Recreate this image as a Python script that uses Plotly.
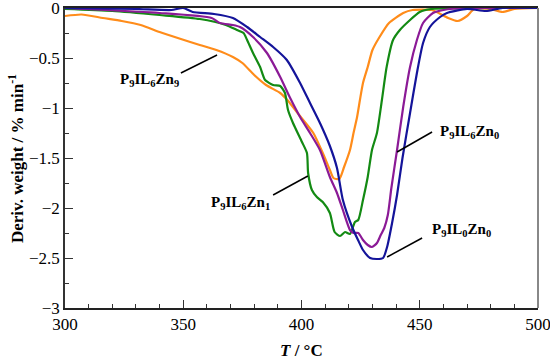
import plotly.graph_objects as go

# ---- data ----
T_zn9 = [300, 307, 316, 324, 332, 340, 349, 357, 364, 371, 375, 380, 385, 391, 394, 399, 405, 409,
         412, 413.5, 416, 418, 420.5, 422, 423.5, 424.7, 426, 428, 430, 433, 437, 443, 447, 455,
         458, 462, 466, 470, 473, 480, 485, 490, 500]
D_zn9 = [-0.08, -0.065, -0.10, -0.13, -0.17, -0.24, -0.31, -0.37, -0.42, -0.49, -0.55, -0.67, -0.77,
         -0.85, -0.92, -1.07, -1.25, -1.45, -1.62, -1.70, -1.71, -1.59, -1.42, -1.25, -1.09, -0.92,
         -0.75, -0.59, -0.42, -0.29, -0.15, -0.05, -0.02, -0.02, -0.05, -0.10, -0.13, -0.08, -0.01,
         -0.01, -0.04, -0.01, 0.0]

T_zn1 = [300, 320, 340, 357, 368, 372.7, 375.5, 377, 379.5, 382.5, 384.6, 388, 391, 393, 394.3,
         396.4, 400.2, 402.3, 402.8, 404.4, 406.5, 409, 412, 414, 416.3, 418.4, 420.5, 422.6, 424,
         426, 428, 429.8, 431.9, 434, 436, 438.7, 441.6, 445.9, 450, 455, 500]
D_zn1 = [-0.01, -0.03, -0.07, -0.11, -0.17, -0.22, -0.25, -0.32, -0.45, -0.59, -0.72, -0.77, -0.78,
         -0.85, -1.02, -1.15, -1.34, -1.45, -1.65, -1.82, -1.89, -1.94, -2.05, -2.24, -2.28, -2.24,
         -2.26, -2.14, -2.12, -1.92, -1.69, -1.42, -1.25, -0.92, -0.59, -0.32, -0.22, -0.12, -0.04,
         -0.01, 0.0]

T_zn0 = [300, 340, 362, 365.5, 371, 374, 379.5, 385.4, 391, 395, 399.4, 403.6, 407.8, 412, 415,
         417.5, 420.5, 422, 424, 426, 428, 429.8, 431.9, 433.5, 435, 436.5, 438, 440.4, 443, 445.9,
         448.8, 451.4, 455.6, 460, 470, 500]
D_zn0 = [0.0, -0.05, -0.10, -0.15, -0.17, -0.19, -0.29, -0.45, -0.69, -0.89, -1.09, -1.25, -1.42,
         -1.69, -1.85, -2.02, -2.22, -2.25, -2.25, -2.32, -2.37, -2.39, -2.35, -2.27, -2.20, -2.07,
         -1.80, -1.42, -0.99, -0.59, -0.32, -0.15, -0.05, -0.02, 0.0, 0.0]

T_il0 = [300, 330, 345, 350, 354, 363, 371, 377, 382.5, 388, 393.8, 399.4, 403.6, 407.8, 412, 415,
         417.5, 421.4, 423.9, 426, 429, 431.9, 434.5, 436.2, 438.3, 440.4, 442.7, 445.9, 448.8,
         451.4, 454.3, 458.6, 461.5, 470, 478, 485, 500]
D_il0 = [0.0, -0.01, -0.02, 0.0, -0.04, -0.06, -0.10, -0.19, -0.29, -0.39, -0.52, -0.75, -0.95,
         -1.15, -1.38, -1.60, -1.92, -2.19, -2.32, -2.42, -2.50, -2.51, -2.50, -2.39, -2.15, -1.87,
         -1.50, -1.05, -0.65, -0.35, -0.19, -0.09, -0.05, -0.01, -0.03, 0.0, 0.0]

series_names = ["P<sub>9</sub>IL<sub>6</sub>Zn<sub>9</sub>", "P<sub>9</sub>IL<sub>6</sub>Zn<sub>1</sub>",
                "P<sub>9</sub>IL<sub>6</sub>Zn<sub>0</sub>", "P<sub>9</sub>IL<sub>0</sub>Zn<sub>0</sub>"]
series_T = [T_zn9, T_zn1, T_zn0, T_il0]
series_D = [D_zn9, D_zn1, D_zn0, D_il0]
colors = ["#FF8C1A", "#138A13", "#8B1A96", "#14149A"]

# label placement: (text x, text y, leader start x, y, leader end x, y)
label_pos = [
    (335.9, -0.72, 349.0, -0.65, 364.3, -0.47),
    (374.2, -1.95, 388.0, -1.87, 402.7, -1.68),
    (471.2, -1.24, 455.2, -1.24, 440.4, -1.44),
    (467.7, -2.22, 451.0, -2.30, 436.2, -2.49),
]

x_ticks = [300, 350, 400, 450, 500]
y_ticks = [0, -0.5, -1, -1.5, -2, -2.5, -3]

fig = go.Figure()
for name, T, D, c in zip(series_names, series_T, series_D, colors):
    fig.add_trace(go.Scatter(x=T, y=D, mode="lines", name=name,
                             line=dict(color=c, width=2.2, shape="spline", smoothing=0.6)))

serif = '"Liberation Serif", "Times New Roman", Times, serif'
for name, (tx, ty, x0, y0, x1, y1) in zip(series_names, label_pos):
    fig.add_annotation(x=tx, y=ty, xref="x", yref="y", text="<b>" + name + "</b>",
                       showarrow=False, font=dict(family=serif, size=15, color="black"))
    fig.add_shape(type="line", xref="x", yref="y", x0=x0, y0=y0, x1=x1, y1=y1,
                  line=dict(color="black", width=1.5))

# right border (gray)
fig.add_shape(type="line", xref="paper", yref="paper", x0=1, x1=1, y0=0, y1=1,
              line=dict(color="#888888", width=2))

fig.add_annotation(xref="paper", yref="paper", x=-0.1036, y=0.5, textangle=-90,
                   text="<b>Deriv. weight / % min<sup>-1</sup></b>", showarrow=False,
                   font=dict(family=serif, size=17, color="black"), xanchor="center", yanchor="middle")
fig.add_annotation(xref="paper", yref="paper", x=0.5, y=-0.14,
                   text="<b><i>T</i> / °C</b>", showarrow=False,
                   font=dict(family=serif, size=17, color="black"), xanchor="center", yanchor="middle")

fig.update_layout(
    width=550, height=361,
    margin=dict(l=65, r=12, t=8, b=53, autoexpand=False),
    paper_bgcolor="white", plot_bgcolor="white",
    showlegend=False,
    font=dict(family=serif, size=17, color="black"),
)
fig.update_xaxes(range=[300, 500], tickvals=x_ticks, ticks="inside", ticklen=8, tickwidth=1.2,
                 tickcolor="#333", showline=True, linecolor="#222", linewidth=1.5, mirror=True,
                 showgrid=False, zeroline=False, automargin=False, ticklabeloverflow="allow",
                 tickfont=dict(family=serif, size=17, color="black"),
                 minor=dict(dtick=10, ticks="inside", ticklen=4, tickcolor="#333", showgrid=False))
fig.update_yaxes(range=[-3, 0], tickvals=y_ticks, ticks="inside", ticklen=8, tickwidth=1.2,
                 tickcolor="#333", showline=True, linecolor="#333", linewidth=1.5,
                 showgrid=False, zeroline=False, automargin=False, ticklabeloverflow="allow",
                 tickfont=dict(family=serif, size=17, color="black"),
                 minor=dict(dtick=0.25, ticks="inside", ticklen=4, tickcolor="#333", showgrid=False))

fig.write_html("out.html", config={"displayModeBar": False},
               post_script="document.body.style.margin='0';document.body.style.padding='0';")
